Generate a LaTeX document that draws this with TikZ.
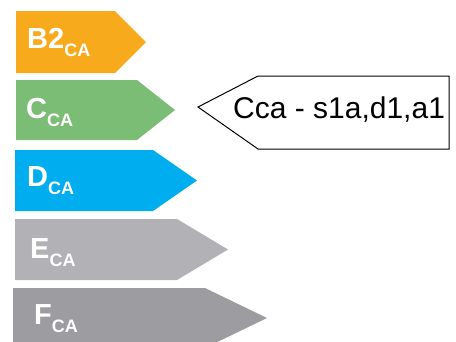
\documentclass[tikz,border=0pt]{standalone}
\usepackage{fontspec}
\setmainfont{Liberation Sans}
\usepackage{tikz}

\definecolor{clsorange}{RGB}{248,170,29}
\definecolor{clsgreen}{RGB}{124,189,118}
\definecolor{clsblue}{RGB}{0,174,239}
\definecolor{clslight}{RGB}{178,177,181}
\definecolor{clsdark}{RGB}{157,156,160}

\newcommand{\clsub}[1]{\raisebox{-8.5pt}{\fontsize{18}{18}\selectfont\bfseries #1}}

\tikzset{
  classlabel/.style={anchor=base west, inner sep=0pt, text=white,
    font=\fontsize{29}{29}\selectfont\bfseries},
  tagtext/.style={anchor=base west, inner sep=0pt,
    font=\fontsize{30}{30}\selectfont}
}

\begin{document}
\begin{tikzpicture}[x=1pt, y=-1pt]
  \useasboundingbox (0,0) rectangle (456,341);
  % class arrows
  \foreach \name/\col/\xl/\ya/\yb/\xb/\xt/\lx/\ly/\txt in {
      b2/clsorange/16/11/73/115/146/27/48/B2,
      c/clsgreen/16/80/140/137/175/26/118/C,
      d/clsblue/15/150/211/153/197/27/186/D,
      e/clslight/15/219/280/177/228/30/258/E,
      f/clsdark/13/288/348/205/267/34/324/F}
  {
    \fill[\col] (\xl,\ya) -- (\xb,\ya) -- (\xt,{(\ya+\yb)/2})
      -- (\xb,\yb) -- (\xl,\yb) -- cycle;
    \node[classlabel] (\name) at (\lx,\ly) {\txt\clsub{CA}};
  }
  % tag
  \node[tagtext] (tag) at (233,118) {Cca - s1a,d1,a1};
  \draw[line width=1pt, line join=miter] (198,107) -- (258,76) -- (449,76)
    -- (449,149) -- (258,149) -- cycle;
\end{tikzpicture}
\end{document}
